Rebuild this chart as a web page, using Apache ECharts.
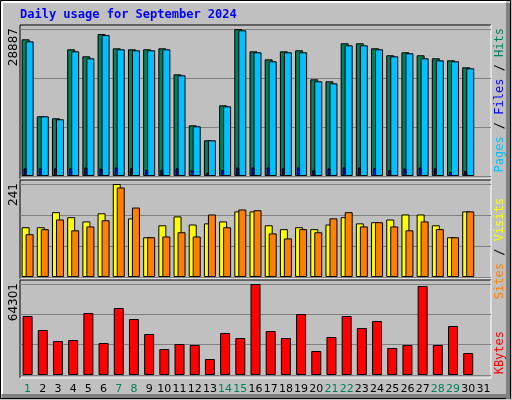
<!DOCTYPE html>
<html>
<head>
<meta charset="UTF-8">
<script src="https://cdn.jsdelivr.net/npm/echarts@6/dist/echarts.min.js"></script>
<style>
  html, body { margin: 0; padding: 0; background: #c0c0c0; }
  #chart { width: 512px; height: 400px; }
</style>
</head>
<body>
<div id="chart"></div>
<script>
// 数据
var days = [];
for (var d = 1; d <= 31; d++) days.push(String(d));
var weekends = ['1', '7', '8', '14', '15', '21', '22', '28', '29'];
var hits = [26860, 11730, 11340, 24900, 23520, 27900, 25090, 24900, 24900, 25090, 19980, 9960, 7015, 13890, 28887,
    24500, 22930, 24500, 24700, 19000, 18610, 26080, 26080, 25090, 23720, 24310, 23720, 23130, 22730, 21360];
var files = [26470, 11730, 11140, 24500, 23130, 27700, 24900, 24700, 24700, 24900, 19790, 9770, 7015, 13700, 28630,
    24310, 22540, 24310, 24310, 18610, 18220, 25680, 25680, 24900, 23520, 24110, 23130, 22730, 22540, 21160];
var pages = [1500, 1500, 1500, 1500, 1700, 1500, 1700, 1500, 1200, 1200, 1500, 1200, 600, 1200, 1700,
    1700, 1700, 1500, 1700, 1200, 1500, 1700, 1700, 1500, 1200, 1500, 1700, 1500, 800, 1000];
var sites = [129, 129, 168, 155, 144, 165, 241, 152, 103, 134, 157, 136, 139, 144, 170,
    170, 134, 124, 129, 124, 136, 155, 139, 142, 149, 162, 162, 134, 103, 170];
var visits = [111, 124, 149, 121, 131, 147, 232, 180, 103, 105, 116, 105, 162, 129, 175,
    173, 113, 100, 124, 116, 152, 168, 131, 142, 131, 121, 144, 124, 103, 170];
var kbytes = [41680, 31790, 24020, 24730, 43800, 22610, 47340, 39560, 28970, 18370, 21900, 21200, 11300, 29670, 26140,
    64301, 31090, 26140, 43100, 16960, 26850, 41680, 33210, 38150, 19080, 21200, 62880, 21200, 34620, 15540];
var maxHits = 28887, maxSites = 241, maxKbytes = 64301;

var chart = echarts.init(document.getElementById('chart'));

function xAx(gi, showLabel) {
    return {
        type: 'category', data: days, gridIndex: gi,
        axisLine: { show: false }, axisTick: { show: false },
        axisLabel: {
            show: showLabel, margin: 9, interval: 0,
            fontFamily: 'DejaVu Sans', fontSize: 11, color: '#000',
            formatter: function (v) { return weekends.indexOf(v) >= 0 ? '{w|' + v + '}' : v; },
            rich: { w: { color: '#00805c', fontFamily: 'DejaVu Sans', fontSize: 11 } }
        }
    };
}
function yAx(gi, max) {
    return {
        type: 'value', gridIndex: gi, min: 0, max: max, interval: max / 3,
        axisLine: { show: false }, axisTick: { show: false }, axisLabel: { show: false },
        splitLine: { lineStyle: { color: '#808080', width: 1 } }
    };
}
function bar(name, xi, data, color, width, gap) {
    var s = {
        name: name, type: 'bar', xAxisIndex: xi, yAxisIndex: xi > 2 ? xi - 3 : xi, data: data,
        barWidth: width, itemStyle: { color: color, borderColor: '#000', borderWidth: 1 }, animation: false
    };
    if (gap !== undefined) s.barGap = gap;
    return s;
}
function vtext(x, y, text, color) {
    return {
        type: 'text', x: x, y: y, rotation: Math.PI / 2,
        style: { text: text, fill: color, font: '12px "DejaVu Sans"', textAlign: 'right', textVerticalAlign: 'middle' }
    };
}
function panel(y1, y2) {
    return [
        { type: 'line', shape: { x1: 20, y1: y1, x2: 491, y2: y1 }, style: { stroke: '#000', lineWidth: 1 } },
        { type: 'line', shape: { x1: 20, y1: y1, x2: 20, y2: y2 }, style: { stroke: '#000', lineWidth: 1 } },
        { type: 'line', shape: { x1: 20, y1: y2, x2: 491, y2: y2 }, style: { stroke: '#fff', lineWidth: 1 } },
        { type: 'line', shape: { x1: 491, y1: y1, x2: 491, y2: y2 }, style: { stroke: '#fff', lineWidth: 1 } }
    ];
}

var option = {
    backgroundColor: '#c0c0c0',
    animation: false,
    grid: [
        { left: 20, right: 21, top: 29, height: 147 },
        { left: 20, right: 21, top: 184, height: 93 },
        { left: 20, right: 21, top: 284, height: 91 }
    ],
    xAxis: [xAx(0, false), xAx(1, false), xAx(2, true), xAx(0, false)],
    yAxis: [yAx(0, maxHits), yAx(1, maxSites), yAx(2, maxKbytes)],
    series: [
        bar('Hits', 0, hits, '#00805c', 8, '-50%'),
        bar('Files', 0, files, '#00c0ff', 8),
        bar('Pages', 3, pages, '#0000ff', 3, 0),
        bar('dummy', 3, [], 'transparent', 5),
        bar('Sites', 1, sites, '#ffff00', 8, '-50%'),
        bar('Visits', 1, visits, '#ff8000', 8),
        bar('KBytes', 2, kbytes, '#ff0000', 10)
    ],
    graphic: [
        { type: 'rect', shape: { x: 0.5, y: 0.5, width: 510, height: 398 }, style: { fill: 'none', stroke: '#000', lineWidth: 1 } },
        { type: 'line', shape: { x1: 2, y1: 2, x2: 506, y2: 2 }, style: { stroke: '#fff', lineWidth: 2 } },
        { type: 'line', shape: { x1: 2, y1: 2, x2: 2, y2: 394 }, style: { stroke: '#fff', lineWidth: 2 } },
        { type: 'rect', shape: { x: 506, y: 3, width: 4, height: 396 }, style: { fill: '#808080' } },
        { type: 'rect', shape: { x: 2, y: 394, width: 508, height: 4 }, style: { fill: '#808080' } },
        {
            type: 'text', x: 20, y: 15,
            style: { text: 'Daily usage for September 2024', fill: '#0000ff', font: 'bold 12px "DejaVu Sans Mono"', textVerticalAlign: 'middle' }
        },
        vtext(14, 28, String(maxHits), '#000'),
        vtext(14, 183, String(maxSites), '#000'),
        vtext(14, 283, String(maxKbytes), '#000'),
        {
            type: 'text', x: 500, y: 28, rotation: Math.PI / 2,
            style: {
                text: '{p|Pages} / {f|Files} / {h|Hits}', textAlign: 'right', textVerticalAlign: 'middle',
                font: '12px "DejaVu Sans Mono"', fill: '#000',
                rich: { p: { fill: '#00c0ff', font: '12px "DejaVu Sans Mono"' }, f: { fill: '#0000ff', font: '12px "DejaVu Sans Mono"' }, h: { fill: '#00805c', font: '12px "DejaVu Sans Mono"' } }
            }
        },
        {
            type: 'text', x: 500, y: 198, rotation: Math.PI / 2,
            style: {
                text: '{s|Sites} / {v|Visits}', textAlign: 'right', textVerticalAlign: 'middle',
                font: '12px "DejaVu Sans Mono"', fill: '#000',
                rich: { s: { fill: '#ff8000', font: '12px "DejaVu Sans Mono"' }, v: { fill: '#ffff00', font: '12px "DejaVu Sans Mono"' } }
            }
        },
        vtext(500, 331, 'KBytes', '#ff0000')
    ].concat(panel(25, 179), panel(180, 279), panel(280, 378))
};
option.graphic[option.graphic.length - 1 - 12].style.font = '12px "DejaVu Sans Mono"';
chart.setOption(option);
</script>
</body>
</html>
